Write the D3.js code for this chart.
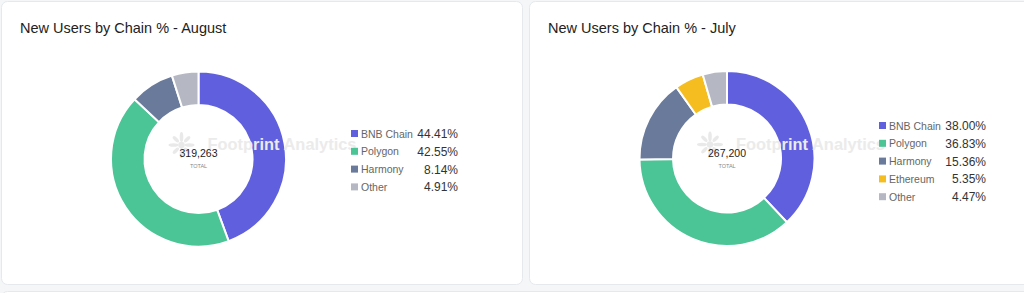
<!DOCTYPE html>
<html><head><meta charset="utf-8">
<script src="https://cdn.jsdelivr.net/npm/d3@7"></script>
<style>
html,body{margin:0;padding:0;background:#f4f6f8;}
svg{display:block;font-family:"Liberation Sans",Arial,sans-serif;}
</style></head>
<body><svg id="c" width="1024" height="293"></svg>
<script>
const augCategories = ["BNB Chain","Polygon","Harmony","Other"];
const augValues = [44.41, 42.55, 8.14, 4.91];
const augTotal = "319,263";
const julCategories = ["BNB Chain","Polygon","Harmony","Ethereum","Other"];
const julValues = [38.00, 36.83, 15.36, 5.35, 4.47];
const julTotal = "267,200";
const titles = ["New Users by Chain % - August","New Users by Chain % - July"];

const colorMap = {"BNB Chain":"#6060df","Polygon":"#4bc496","Harmony":"#6a7a9b","Ethereum":"#f5bd20","Other":"#b5b8c2"};

const svg = d3.select("#c");

const cards = [{x:1.5,y:1.5,w:521,h:283},{x:529.5,y:1.5,w:510,h:283}];
cards.forEach(c=>{
  svg.append("rect").attr("x",c.x).attr("y",c.y).attr("width",c.w).attr("height",c.h)
    .attr("rx",6).attr("fill","#fff").attr("stroke","#e6e9ec");
});
svg.append("rect").attr("x",1.5).attr("y",291.5).attr("width",1040).attr("height",20).attr("rx",6)
  .attr("fill","#fff").attr("stroke","#e6e9ec");

function drawChart(cfg){
  const g = svg.append("g");
  g.append("text").attr("x",cfg.tx).attr("y",33).attr("font-size",14.5).attr("fill","#222")
    .text(cfg.title);
  const pie = d3.pie().sort(null).value(d=>d.v);
  const data = cfg.cats.map((c,i)=>({c, v:cfg.vals[i]}));
  const arcs = pie(data);
  const arc = d3.arc().innerRadius(54).outerRadius(87.5);
  const pg = g.append("g").attr("transform",`translate(${cfg.cx},${cfg.cy})`);
  pg.selectAll("path").data(arcs).join("path")
    .attr("d",arc).attr("fill",d=>colorMap[d.data.c]).attr("stroke","#fff").attr("stroke-width",2);

  // watermark
  const wm = g.append("g").attr("transform",`translate(${cfg.cx-17},${cfg.cy-14})`).attr("fill","#e9e9e9");
  wm.append("circle").attr("r",3.2);
  d3.range(8).forEach(i=>{
    const a = i*Math.PI/4 - Math.PI/2;
    const r = 8, len = (i%2===0)?5:4;
    wm.append("ellipse").attr("cx",Math.cos(a)*r).attr("cy",Math.sin(a)*r)
      .attr("rx",len).attr("ry",1.8)
      .attr("transform",`rotate(${a*180/Math.PI},${Math.cos(a)*r},${Math.sin(a)*r})`);
  });
  g.append("text").attr("x",cfg.cx+9).attr("y",cfg.cy-9).attr("font-size",17).attr("font-weight","bold")
    .attr("fill","#ebebeb").attr("textLength",149).attr("lengthAdjust","spacingAndGlyphs").text("Footprint Analytics");

  g.append("text").attr("x",cfg.cx).attr("y",cfg.cy-2).attr("text-anchor","middle")
    .attr("font-size",10.5).attr("fill","#222").text(cfg.total);
  g.append("text").attr("x",cfg.cx).attr("y",cfg.cy+9).attr("text-anchor","middle")
    .attr("font-size",5.5).attr("fill","#888").text("TOTAL");

  const y = d3.scalePoint().domain(cfg.cats).range([cfg.ly0, cfg.ly0 + 17.8*(cfg.cats.length-1)]);
  const lg = g.append("g");
  const rows = lg.selectAll("g").data(data).join("g").attr("transform",d=>`translate(0,${y(d.c)})`);
  rows.append("rect").attr("x",cfg.lx).attr("y",-3.5).attr("width",7).attr("height",7).attr("fill",d=>colorMap[d.c]);
  rows.append("text").attr("x",cfg.lx+10).attr("y",4).attr("font-size",10.5).attr("fill","#666").text(d=>d.c);
  rows.append("text").attr("x",cfg.vx).attr("y",4.5).attr("text-anchor","end").attr("font-size",12).attr("fill","#333")
    .text(d=>d.v.toFixed(2)+"%");
}

drawChart({title:titles[0],tx:20,cx:198.5,cy:159,cats:augCategories,vals:augValues,total:augTotal,lx:351,vx:458,ly0:133.5});
drawChart({title:titles[1],tx:548,cx:727,cy:158.5,cats:julCategories,vals:julValues,total:julTotal,lx:879,vx:986,ly0:125.5});
</script></body></html>
